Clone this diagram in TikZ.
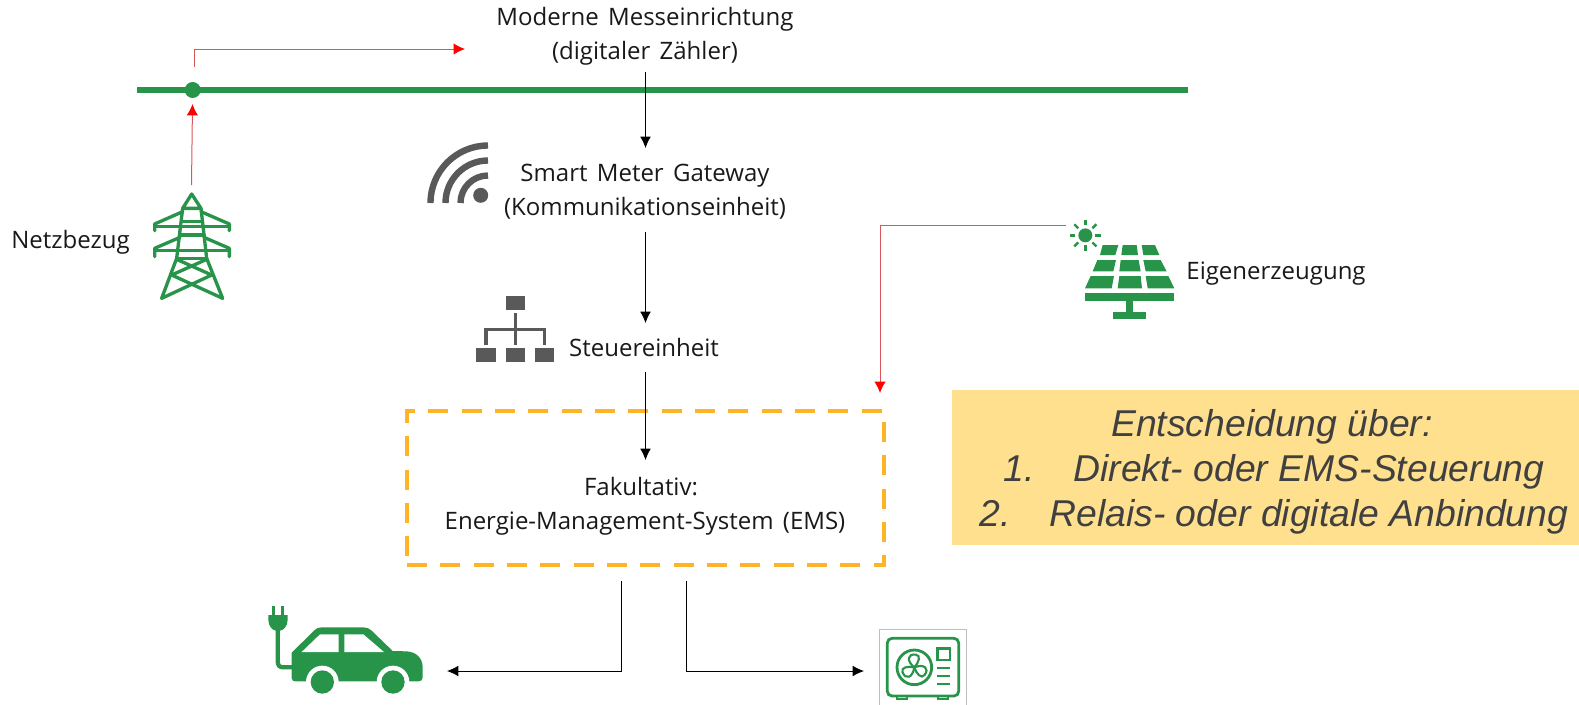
\documentclass[tikz,border=0pt]{standalone}
\usepackage{fontspec}
\setmainfont{Open Sans}[WordSpace=1.5]
\newfontfamily\hinweisfont{Liberation Sans}
\usetikzlibrary{arrows.meta,calc}
\definecolor{netzgruen}{HTML}{27944A}
\definecolor{icongrau}{HTML}{595959}
\definecolor{emsorange}{HTML}{FFB326}
\definecolor{hinweisgelb}{HTML}{FFE08F}
\definecolor{rotlinie}{HTML}{D9575A}
\tikzset{
  beschriftung/.style={inner sep=0pt,align=center,text=black!90,font=\fontsize{18pt}{25.5pt}\selectfont},
  schwarzpfeil/.style={draw=black,line width=0.6pt,-{Latex[length=8.5pt,width=8pt]}},
  rotpfeil/.style={draw=rotlinie,line width=0.75pt,-{Latex[length=8.5pt,width=8.5pt,color=red]}},
  kleinraster/.style={x=0.25pt,y=-0.25pt},
  gruenstrich/.style={draw=netzgruen,line width=2.5pt,line join=round,line cap=round},
}
\begin{document}
\begin{tikzpicture}[x=0.75pt,y=-0.75pt]
        \useasboundingbox (0,0) rectangle (1579,704);

        % draw the main line
        \coordinate (netzlinks) at (137,90);
        \coordinate (netzrechts) at (1188,90);
        \draw[draw=netzgruen,line width=3.8pt] (netzlinks) -- (netzrechts);
        \node[circle,fill=netzgruen,inner sep=0pt,minimum size=12pt] (knoten) at (192.7,90) {};

        % draw the texts
        \node[beschriftung] (zaehler) at (645,36.5) {Moderne Messeinrichtung\\(digitaler Zähler)};
        \node[beschriftung] (gateway) at (645,192) {Smart Meter Gateway\\(Kommunikationseinheit)};
        \node[beschriftung] (steuer) at (644,347) {Steuereinheit};
        \node[beschriftung] (netzbezug) at (70.5,242) {Netzbezug};
        \node[beschriftung] (eigen) at (1276,274) {Eigenerzeugung};
        \node[draw=emsorange,line width=3.7pt,dash pattern=on 15pt off 10pt,
              minimum width=357.75pt,minimum height=115.5pt,inner sep=0pt] (ems) at (645.5,488) {};
        \node[beschriftung] (emstext) at (645,506.5) {\hspace*{-6pt}Fakultativ:\\Energie-Management-System (EMS)};

        % draw the note on the right
        \node[fill=hinweisgelb,minimum width=470.25pt,minimum height=116.25pt,inner sep=0pt] (hinweis) at (1265.5,467.5) {};
        \node[inner sep=0pt,align=center,text=black!75,font=\hinweisfont\itshape\fontsize{28pt}{33.5pt}\selectfont]
              (hinweistext) at (1272,472) {Entscheidung über:\\\hspace*{3pt}1.\hspace{29pt}Direkt- oder EMS-Steuerung\\\hspace*{3pt}2.\hspace{29pt}Relais- oder digitale Anbindung};

        % free ends of the connectors
        \coordinate (abzweig) at (194,67);
        \coordinate (rotziel) at (465,49);
        \coordinate (mastspitze) at (191.5,185);
        \coordinate (knotenunten) at (192.5,104);
        \coordinate (zaehlerab) at (645.5,72);
        \coordinate (gatewayan) at (645.5,148);
        \coordinate (gatewayab) at (645.5,232);
        \coordinate (steueran) at (645.5,323);
        \coordinate (steuerab) at (645.5,372);
        \coordinate (emsan) at (645.5,460);
        \coordinate (solarab) at (1066,225);
        \coordinate (emsecke) at (880,393);
        \coordinate (emsablinks) at (621.5,581);
        \coordinate (emsabrechts) at (686,581);
        \coordinate (autoan) at (447,671);
        \coordinate (pumpean) at (864,671);

        % draw the connectors
        \draw[rotpfeil] (mastspitze) -- (knotenunten);
        \draw[rotpfeil] (abzweig) |- (rotziel);
        \draw[rotpfeil] (solarab) -| (emsecke);
        \draw[schwarzpfeil] (zaehlerab) -- (gatewayan);
        \draw[schwarzpfeil] (gatewayab) -- (steueran);
        \draw[schwarzpfeil] (steuerab) -- (emsan);
        \draw[schwarzpfeil] (emsablinks) |- (autoan);
        \draw[schwarzpfeil] (emsabrechts) |- (pumpean);

        % draw the wifi icon
        \fill[icongrau] (480.7,195.3) circle (7.5);
        \foreach \r in {27.5,42.5,57.5}
                \draw[icongrau,line width=4.8pt] (488-\r,203) arc (180:270:\r);

        % draw the control unit icon
        \fill[icongrau] (505.7,296) rectangle (525,310);
        \foreach \x in {476.3,505.7,534.7}
                \fill[icongrau] (\x,348.3) rectangle (\x+19.3,362.3);
        \draw[icongrau,line width=2.6pt] (515.3,313) -- (515.3,345);
        \draw[icongrau,line width=2.6pt] (486,345) -- (486,329.3) -- (544.6,329.3) -- (544.6,345);

        % draw the pylon
        \begin{scope}[shift={(130,0)},kleinraster]
                \draw[gruenstrich] (158,625) -- (185,582) -- (213,625) -- cycle;
                \draw[gruenstrich] (158,625) -- (140,775) -- (95,895);
                \draw[gruenstrich] (213,625) -- (230,775) -- (278,895);
                \draw[gruenstrich] (155,665) -- (215,665);
                \draw[gruenstrich] (150,705) -- (222,705);
                \draw[gruenstrich] (140,775) -- (230,775);
                \draw[gruenstrich] (158,635) -- (74,672) -- (74,692);
                \draw[gruenstrich] (213,635) -- (298,672) -- (298,692);
                \draw[gruenstrich] (74,680) -- (298,680);
                \draw[gruenstrich] (150,712) -- (74,745) -- (74,770);
                \draw[gruenstrich] (222,712) -- (298,745) -- (298,770);
                \draw[gruenstrich] (74,752) -- (298,752);
                \draw[gruenstrich] (140,778) -- (245,825) -- (95,895);
                \draw[gruenstrich] (230,778) -- (125,825) -- (278,895);
        \end{scope}

        % draw the solar panel
        \begin{scope}[shift={(1050,200)},kleinraster]
                \fill[netzgruen] (106,106) circle (21);
                \foreach \a in {0,45,...,315}
                        \draw[netzgruen,line width=1.8pt] ($(106,106)+(\a:30)$) -- ($(106,106)+(\a:47)$);
                \fill[netzgruen] (158,135) -- (205,135) -- (196,165) -- (150,165) -- cycle;
                \fill[netzgruen] (218,135) -- (260,135) -- (264,165) -- (214,165) -- cycle;
                \fill[netzgruen] (275,135) -- (315,135) -- (328,165) -- (280,165) -- cycle;
                \fill[netzgruen] (142,180) -- (198,180) -- (190,214) -- (128,214) -- cycle;
                \fill[netzgruen] (212,180) -- (266,180) -- (272,214) -- (208,214) -- cycle;
                \fill[netzgruen] (280,180) -- (332,180) -- (350,214) -- (287,214) -- cycle;
                \fill[netzgruen] (122,228) -- (192,228) -- (185,265) -- (105,265) -- cycle;
                \fill[netzgruen] (208,228) -- (272,228) -- (276,265) -- (203,265) -- cycle;
                \fill[netzgruen] (287,228) -- (355,228) -- (373,265) -- (293,265) -- cycle;
                \fill[netzgruen] (104,280) rectangle (373,302);
                \fill[netzgruen] (228,302) rectangle (250,336);
                \fill[netzgruen] (190,336) rectangle (288,357);
        \end{scope}

        % draw the car
        \begin{scope}[shift={(240,590)},kleinraster]
                \fill[netzgruen] (155,265) -- (155,188) -- (222,122) .. controls (230,114) and (238,112) .. (245,112)
                        -- (370,112) .. controls (380,112) and (388,115) .. (395,122) -- (458,183) -- (500,184)
                        .. controls (530,186) and (548,205) .. (548,232) -- (548,262) .. controls (548,270) and (544,274) .. (536,274)
                        -- (170,274) .. controls (160,274) and (155,272) .. (155,265) -- cycle;
                \fill[white] (185,186) -- (240,133) -- (296,133) -- (296,186) -- cycle;
                \fill[white] (313,133) -- (370,133) -- (432,186) -- (313,186) -- cycle;
                \foreach \x in {247,459} {
                        \fill[white] (\x,276) circle (49);
                        \fill[netzgruen] (\x,276) circle (35);
                }
                \fill[netzgruen] (95,48) rectangle (105,78);
                \fill[netzgruen] (122,48) rectangle (132,78);
                \fill[netzgruen] (85,75) -- (143,75) -- (143,90) .. controls (143,108) and (130,122) .. (120,122)
                        -- (108,122) .. controls (98,122) and (85,108) .. (85,90) -- cycle;
                \draw[netzgruen,line width=3.2pt] (113,120) -- (113,212) .. controls (113,226) and (118,232) .. (130,232) -- (160,232);
        \end{scope}

        % draw the heat pump
        \begin{scope}[shift={(860,620)},kleinraster]
                \draw[black!25,line width=0.6pt] (58,255) -- (58,28) -- (318,28) -- (318,255);
                \draw[netzgruen,line width=2.1pt,rounded corners=3.5pt] (82,55) rectangle (296,228);
                \draw[netzgruen,line width=1.6pt] (110,228) -- (110,237) -- (140,237) -- (140,228);
                \draw[netzgruen,line width=1.6pt] (235,228) -- (235,237) -- (265,237) -- (265,228);
                \draw[netzgruen,line width=2.1pt] (163,142) circle (52);
                \foreach \a in {0,120,240}
                        \draw[netzgruen,line width=1.6pt,rotate around={\a:(163,142)}] (163,142)
                                .. controls (138,122) and (143,100) .. (168,104) .. controls (183,106) and (177,127) .. (163,142);
                \draw[netzgruen,line width=2.1pt] (232,85) rectangle (270,120);
                \foreach \y in {145,168,192}
                        \draw[netzgruen,line width=1.7pt] (232,\y) -- (270,\y);
        \end{scope}
\end{tikzpicture}
\end{document}
